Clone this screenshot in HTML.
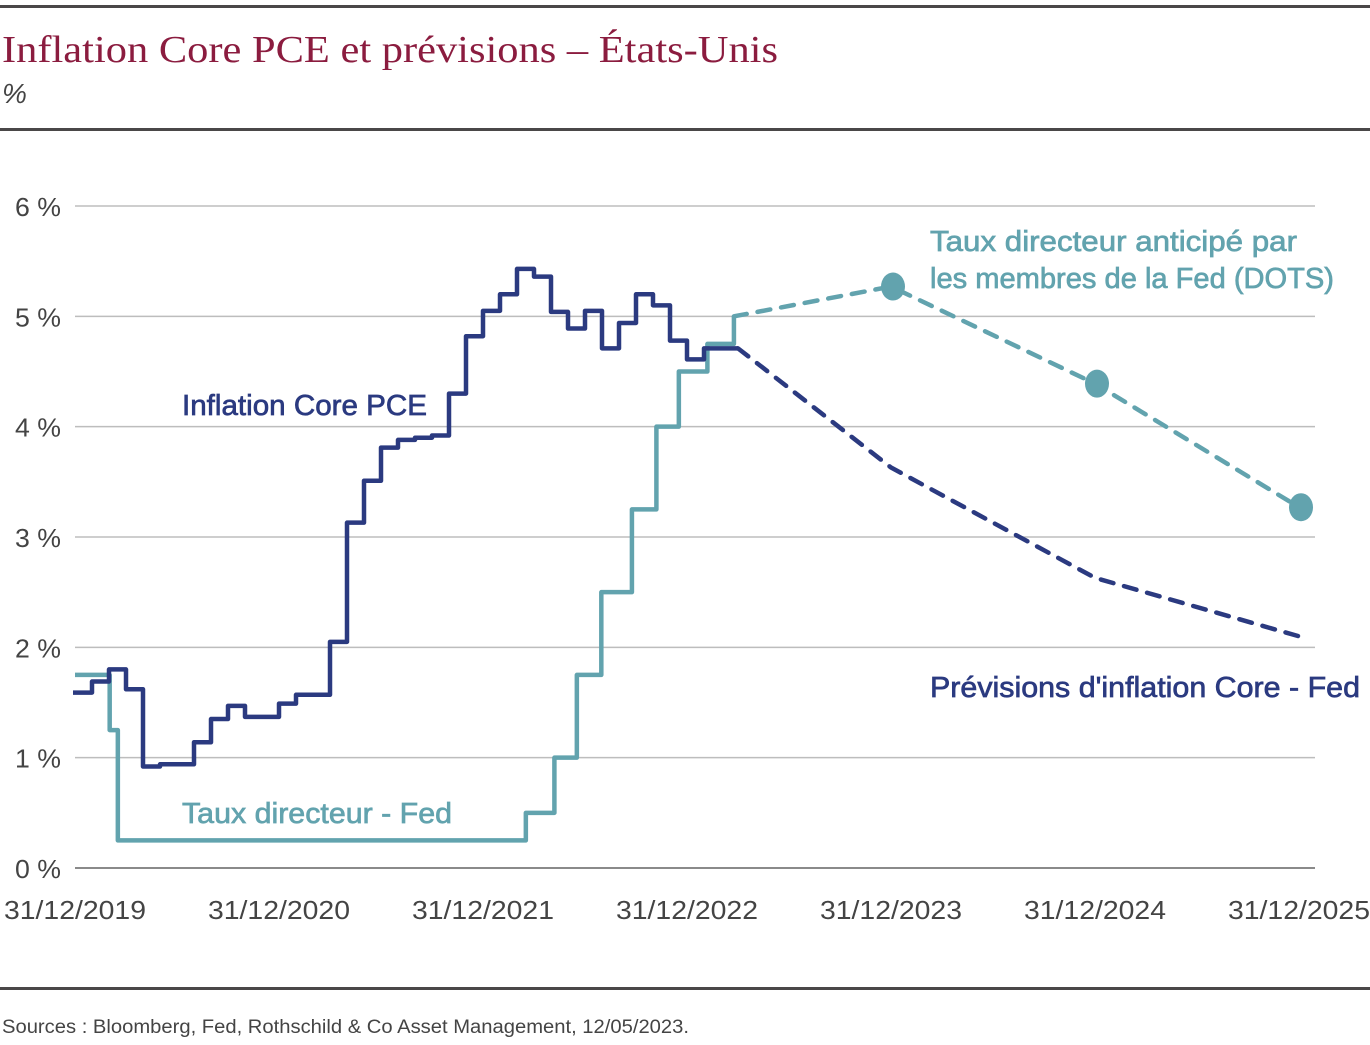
<!DOCTYPE html>
<html><head><meta charset="utf-8">
<style>
html,body{margin:0;padding:0;background:#fff;}
svg{display:block;font-family:"Liberation Sans",sans-serif;}
.lbl{stroke-width:0.7;}
</style></head>
<body>
<svg id="chart" width="1370" height="1045" viewBox="0 0 1370 1045">
  <rect x="0" y="5" width="1370" height="3" fill="#4a4748"/>
  <text x="2" y="62" font-family="Liberation Serif, serif" font-size="38" fill="#8b1c3f" textLength="776" lengthAdjust="spacingAndGlyphs">Inflation Core PCE et prévisions – États-Unis</text>
  <text x="2" y="103" font-size="28" fill="#444" font-style="italic">%</text>
  <rect x="0" y="128" width="1370" height="3" fill="#4a4748"/>
  <g id="grid"></g>
  <g id="marks"></g>
  <text class="lbl" x="182" y="415" font-size="29" fill="#2b3a80" stroke="#2b3a80" textLength="245" lengthAdjust="spacingAndGlyphs">Inflation Core PCE</text>
  <text class="lbl" x="182" y="823" font-size="29" fill="#62a3ae" stroke="#62a3ae" textLength="270" lengthAdjust="spacingAndGlyphs">Taux directeur - Fed</text>
  <text class="lbl" x="930" y="251" font-size="29" fill="#62a3ae" stroke="#62a3ae" textLength="367" lengthAdjust="spacingAndGlyphs">Taux directeur anticipé par</text>
  <text class="lbl" x="930" y="288" font-size="29" fill="#62a3ae" stroke="#62a3ae" textLength="404" lengthAdjust="spacingAndGlyphs">les membres de la Fed (DOTS)</text>
  <text class="lbl" x="930" y="697" font-size="29" fill="#2b3a80" stroke="#2b3a80" textLength="430" lengthAdjust="spacingAndGlyphs">Prévisions d'inflation Core - Fed</text>
  <rect x="0" y="987" width="1370" height="3" fill="#4a4748"/>
  <text x="2" y="1033" font-size="19" fill="#444" textLength="687" lengthAdjust="spacingAndGlyphs">Sources : Bloomberg, Fed, Rothschild &amp; Co Asset Management, 12/05/2023.</text>
</svg>
<script>
const yTicks = [0,1,2,3,4,5,6];
const xTickLabels = ["31/12/2019","31/12/2020","31/12/2021","31/12/2022","31/12/2023","31/12/2024","31/12/2025"];
// Core PCE monthly values (month index 0 = Dec 2019)
const pceValues = [1.59,1.69,1.80,1.62,0.92,0.94,0.94,1.14,1.35,1.47,1.37,1.37,1.49,1.57,1.57,2.05,3.13,3.51,3.81,3.88,3.90,3.92,4.30,4.82,5.05,5.20,5.43,5.36,5.04,4.89,5.05,4.71,4.94,5.20,5.10,4.78,4.61,4.71,4.71];
// Fed funds changes: time in years after 31/12/2019
const fedTimes = [0,0.17,0.21,2.21,2.35,2.46,2.58,2.73,2.85,2.96,3.10,3.23];
const fedValues = [1.75,1.25,0.25,0.5,1.0,1.75,2.5,3.25,4.0,4.5,4.75,5.0];
const fedEnd = 3.23;
// DOTS projections (end of year 2023, 2024, 2025)
const dotsYears = [4,5,6];
const dotsValues = [5.27,4.39,3.27];
// Core PCE forecasts
const pceFcYears = [4,5,6];
const pceFcValues = [3.63,2.63,2.10];

const NS="http://www.w3.org/2000/svg";
const X0=75, YR=204, Y0=868, PCT=110.33;
const xs = t => X0 + t*YR;
const ys = v => Y0 - v*PCT;
function mk(tag, attrs, parent){const e=document.createElementNS(NS,tag);for(const k in attrs)e.setAttribute(k,attrs[k]);parent.appendChild(e);return e;}
const grid=document.getElementById('grid'), marks=document.getElementById('marks');

yTicks.forEach(v=>{
  const l=mk('line',{x1:75,x2:1315,y1:ys(v),y2:ys(v),stroke:v===0?'#8a8a8a':'#bdbdbd','stroke-width':v===0?2:1.5},grid);
  
  
  const t=mk('text',{x:61,y:ys(v)+10,'text-anchor':'end','font-size':26,fill:'#444',textLength:46,lengthAdjust:'spacingAndGlyphs'},grid);
  t.textContent=v+' %';
  
  
});
xTickLabels.forEach((s,i)=>{
  const t=mk('text',{x:xs(i)-71,y:919,'font-size':26,fill:'#444',textLength:142,lengthAdjust:'spacingAndGlyphs'},grid);
  t.textContent=s;
  
  
});

// Fed step line
let d='';
fedValues.forEach((v,i)=>{
  const x=xs(fedTimes[i]);
  d+= (i===0?'M':'L')+x+','+ys(v)+' ';
  const xn=xs(i<fedValues.length-1?fedTimes[i+1]:fedEnd);
  d+='L'+xn+','+ys(v)+' ';
});
const fed=mk('path',{d:d,fill:'none',stroke:'#62a3ae','stroke-width':4.5,'stroke-linejoin':'round'},marks);



// PCE step line
const M=1/12;
d='';
pceValues.forEach((v,i)=>{
  const x1=xs(i*M), x2=xs((i+1)*M);
  d+=(i===0?'M'+(x1-2):'L'+x1)+','+ys(v)+' L'+x2+','+ys(v)+' ';
});
const pce=mk('path',{d:d,fill:'none',stroke:'#2b3a80','stroke-width':4.5,'stroke-linejoin':'round'},marks);



// DOTS dashed
d='M'+xs(fedEnd)+','+ys(fedValues[fedValues.length-1]);
dotsYears.forEach((t,i)=>{d+=' L'+xs(t)+','+ys(dotsValues[i]);});
const dl=mk('path',{d:d,fill:'none',stroke:'#62a3ae','stroke-width':4.5,'stroke-dasharray':'13 11','stroke-linecap':'round'},marks);


dotsYears.forEach((t,i)=>{
  const c=mk('ellipse',{cx:xs(t)+2,cy:ys(dotsValues[i]),rx:12,ry:14,fill:'#62a3ae'},marks);
  
  
});

// PCE forecast dashed
const lastPce=pceValues[pceValues.length-1];
d='M'+xs(pceValues.length*M)+','+ys(lastPce);
pceFcYears.forEach((t,i)=>{d+=' L'+xs(t)+','+ys(pceFcValues[i]);});
const fl=mk('path',{d:d,fill:'none',stroke:'#2b3a80','stroke-width':4.5,'stroke-dasharray':'13 11','stroke-linecap':'round'},marks);


</script>
</body></html>
